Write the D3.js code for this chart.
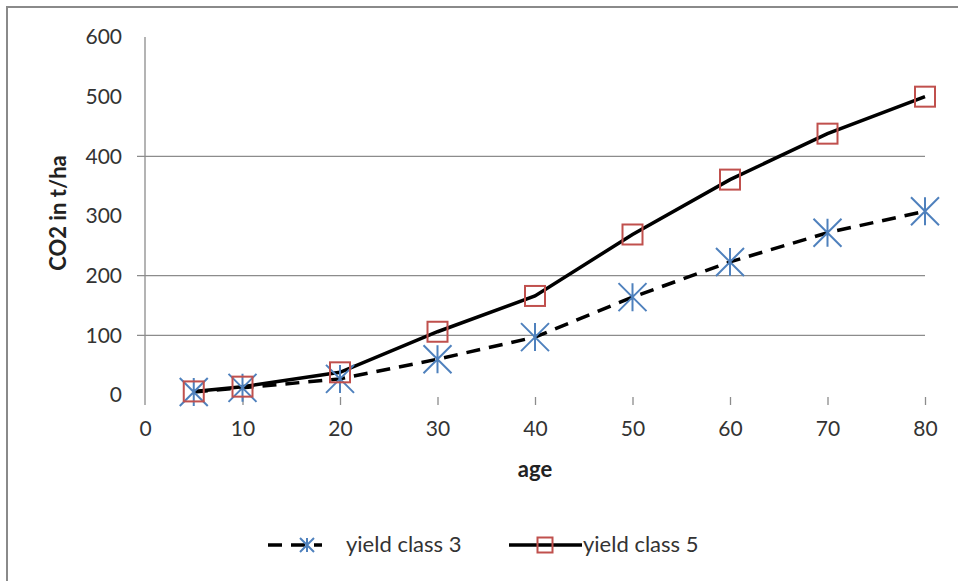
<!DOCTYPE html>
<html lang="en">
<head>
<meta charset="UTF-8">
<title>CO2 by age</title>
<script src="https://cdnjs.cloudflare.com/ajax/libs/d3/7.8.2/d3.min.js"></script>
<style>
    body { margin: 0; background: #fff; }
    svg { display: block; }
    text { font-family: Lato, "Open Sans", sans-serif; fill: #222; }
    .tick text { font-size: 21px; fill: #333; }
    .title { font-size: 22px; font-weight: bold; }
    .legend { font-size: 22px; fill: #333; }
</style>
</head>
<body>
<svg width="958" height="581"></svg>
<script>
    const ages = [5, 10, 20, 30, 40, 50, 60, 70, 80];
    const yieldClass3 = [5, 12, 27, 60, 97, 164, 223, 272, 308];
    const yieldClass5 = [6, 14, 38, 106, 166, 269, 361, 438, 500];
    const xTicks = [0, 10, 20, 30, 40, 50, 60, 70, 80];
    const yTicks = [0, 100, 200, 300, 400, 500, 600];
    const gridValues = [100, 200, 400];

    const svg = d3.select("svg");
    const x = d3.scaleLinear().domain([0, 80]).range([145, 925]);
    const y = d3.scaleLinear().domain([0, 600]).range([395, 37]);

    // frame
    svg.append("rect")
        .attr("x", 7).attr("y", 7).attr("width", 960).attr("height", 600)
        .attr("fill", "none").attr("stroke", "#8a8a8a").attr("stroke-width", 2);

    // gridlines
    svg.append("g").selectAll("line")
        .data(gridValues)
        .enter().append("line")
        .attr("x1", 137).attr("x2", x(80))
        .attr("y1", d => y(d)).attr("y2", d => y(d))
        .attr("stroke", "#8c8c8c").attr("stroke-width", 1.3);

    // y axis
    const yAxis = svg.append("g")
        .attr("transform", `translate(${x(0)},0)`)
        .call(d3.axisLeft(y).tickValues(yTicks).tickSize(0).tickPadding(23));
    yAxis.select(".domain").remove();
    yAxis.selectAll(".tick line").remove();
    svg.append("line")
        .attr("x1", x(0)).attr("x2", x(0))
        .attr("y1", y(600)).attr("y2", 405)
        .attr("stroke", "#8c8c8c").attr("stroke-width", 1.3);

    // x axis
    const xAxis = svg.append("g")
        .attr("transform", `translate(0,${y(0)})`)
        .call(d3.axisBottom(x).tickValues(xTicks).tickSize(10).tickPadding(16));
    xAxis.select(".domain").remove();
    xAxis.selectAll(".tick line").attr("stroke", "#8c8c8c").attr("stroke-width", 1.3)
        .attr("y1", 2).attr("y2", 10);
    xAxis.selectAll(".tick").filter(d => d === 0).select("line").remove();

    svg.append("text").attr("class", "title")
        .attr("x", 535).attr("y", 477).attr("text-anchor", "middle").text("age");
    svg.append("text").attr("class", "title")
        .attr("transform", `translate(66,${y(305)}) rotate(-90)`)
        .attr("text-anchor", "middle").text("CO2 in t/ha");

    // lines
    const line = d3.line().x(d => x(d[0])).y(d => y(d[1]));
    const s3 = ages.map((a, i) => [a, yieldClass3[i]]);
    const s5 = ages.map((a, i) => [a, yieldClass5[i]]);

    svg.append("path").datum(s3).attr("d", line)
        .attr("fill", "none").attr("stroke", "#000").attr("stroke-width", 3.5)
        .attr("stroke-dasharray", "14,9");
    svg.append("path").datum(s5).attr("d", line)
        .attr("fill", "none").attr("stroke", "#000").attr("stroke-width", 3.5);

    function star(g, cx, cy, r) {
        return g.append("path")
            .attr("d", `M${cx},${cy - r}V${cy + r}M${cx - r},${cy - r}L${cx + r},${cy + r}M${cx + r},${cy - r}L${cx - r},${cy + r}`)
            .attr("stroke", "#4f81bd").attr("stroke-width", 2).attr("fill", "none");
    }
    function square(g, cx, cy, r) {
        return g.append("rect")
            .attr("x", cx - r).attr("y", cy - r).attr("width", 2 * r).attr("height", 2 * r)
            .attr("fill", "none").attr("stroke", "#c0504d").attr("stroke-width", 2);
    }

    const m3 = svg.append("g");
    s3.forEach(d => star(m3, x(d[0]), y(d[1]), 14));
    const m5 = svg.append("g");
    s5.forEach(d => square(m5, x(d[0]), y(d[1]), 10));

    // legend
    const lg = svg.append("g");
    lg.append("line").attr("x1", 268).attr("x2", 322).attr("y1", 545).attr("y2", 545)
        .attr("stroke", "#000").attr("stroke-width", 3.5).attr("stroke-dasharray", "14,9");
    star(lg, 307, 545, 7);
    lg.append("text").attr("class", "legend").attr("x", 346).attr("y", 552).text("yield class 3");
    lg.append("line").attr("x1", 509).attr("x2", 582).attr("y1", 545).attr("y2", 545)
        .attr("stroke", "#000").attr("stroke-width", 3.5);
    square(lg, 545, 545, 7.5);
    lg.append("text").attr("class", "legend").attr("x", 583).attr("y", 552).text("yield class 5");
</script>
</body>
</html>
